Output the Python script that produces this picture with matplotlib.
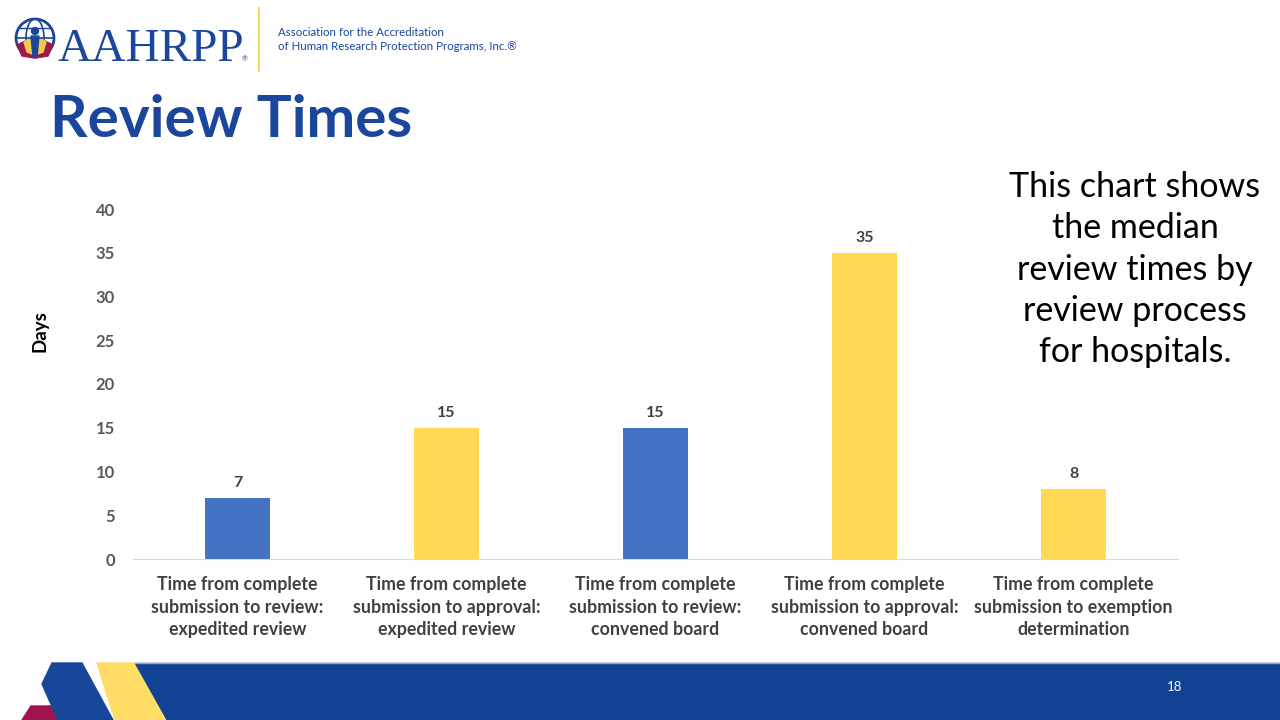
import matplotlib
matplotlib.use("Agg")
import matplotlib.pyplot as plt
from matplotlib.patches import Polygon, Circle, Ellipse

categories = [
    "Time from complete\nsubmission to review:\nexpedited review",
    "Time from complete\nsubmission to approval:\nexpedited review",
    "Time from complete\nsubmission to review:\nconvened board",
    "Time from complete\nsubmission to approval:\nconvened board",
    "Time from complete\nsubmission to exemption\ndetermination",
]
median_days = [7, 15, 15, 35, 8]
bar_colors = ["#4472C4", "#FFD954", "#4472C4", "#FFD954", "#FFD954"]
y_ticks = [0, 5, 10, 15, 20, 25, 30, 35, 40]

navy = "#1A469C"
plt.rcParams["font.family"] = ["Lato", "DejaVu Sans"]

fig = plt.figure(figsize=(12.8, 7.2), dpi=100)

# background layer in pixel coordinates
bg = fig.add_axes([0, 0, 1, 1], zorder=0)
bg.set_xlim(0, 1280)
bg.set_ylim(720, 0)
bg.axis("off")

# logo
bg.add_patch(Circle((35, 38), 19, fill=False, ec=navy, lw=2))
bg.add_patch(Ellipse((35, 38), 18, 38, fill=False, ec=navy, lw=1.2))
bg.plot([16, 54], [38, 38], color=navy, lw=1.2)
bg.plot([19, 51], [28, 28], color=navy, lw=1.0)
bg.add_patch(Polygon([(17, 45), (27, 40), (35, 58), (22, 56)], color="#9B1B4E"))
bg.add_patch(Polygon([(53, 45), (43, 40), (35, 58), (48, 56)], color="#9B1B4E"))
bg.add_patch(Polygon([(24, 42), (30, 38), (35, 55), (27, 52)], color="#F2C94C"))
bg.add_patch(Polygon([(46, 42), (40, 38), (35, 55), (43, 52)], color="#F2C94C"))
bg.add_patch(Polygon([(31, 36), (39, 36), (37, 56), (33, 56)], color=navy))
bg.add_patch(Circle((35, 31), 3.5, color=navy))
bg.text(57, 61, "AAHRPP", fontsize=34, family=["Liberation Serif"], color=navy,
        ha="left", va="baseline")
bg.text(242, 61, "®", fontsize=5, color=navy, ha="left", va="baseline")
bg.plot([259, 259], [8, 71], color="#F5D55B", lw=1.5)
bg.text(278, 36, "Association for the Accreditation", fontsize=8.3,
        color=navy, ha="left", va="baseline")
bg.text(278, 50, "of Human Research Protection Programs, Inc.®", fontsize=8.3,
        color=navy, ha="left", va="baseline")

# title
bg.text(50, 137, "Review Times", fontsize=42, fontweight="bold", color=navy,
        ha="left", va="baseline")

# side note
bg.text(1135, 171, "This chart shows\nthe median\nreview times by\nreview process\nfor hospitals.",
        fontsize=24.5, color="black", ha="center", va="top", linespacing=1.36)

# footer band
bg.add_patch(Polygon([(22, 720), (31, 706), (56, 706), (63, 720)], color="#A0134F"))
bg.add_patch(Polygon([(52, 663), (82, 663), (113, 720), (58, 720), (42, 684)], color="#16479A"))
bg.add_patch(Polygon([(97, 663), (135, 663), (167, 720), (115, 720)], color="#FFDC66"))
bg.add_patch(Polygon([(135, 663), (1280, 663), (1280, 720), (167, 720)], color="#124293"))
bg.plot([135, 1280], [663, 663], color="#8FA8D8", lw=1)
bg.text(1175, 687, "18", fontsize=9.5, color="white", ha="center", va="center")

# y label
bg.text(40, 331, "Days", fontsize=13.5, fontweight="bold", color="black",
        rotation=90, ha="center", va="center")

# chart
ax = fig.add_axes([133 / 1280, 1 - 559 / 720, 1045 / 1280, 350 / 720], zorder=1)
ax.patch.set_alpha(0)
x = range(len(categories))
bars = ax.bar(x, median_days, width=0.31, color=bar_colors)
for xi, v in zip(x, median_days):
    ax.text(xi, v + 0.9, str(v), ha="center", va="bottom", fontsize=11.5,
            fontweight="bold", color="#404040")

ax.set_xlim(-0.5, len(categories) - 0.5)
ax.set_ylim(0, 40)
ax.set_yticks(y_ticks)
ax.set_xticks(list(x))
ax.set_xticklabels(categories, fontsize=12.8, fontweight="bold", color="#404040",
                   linespacing=1.42)
for lab in ax.get_yticklabels():
    lab.set_fontsize(12)
    lab.set_fontweight("bold")
    lab.set_color("#595959")
ax.tick_params(axis="both", length=0)
ax.tick_params(axis="y", pad=13)
ax.tick_params(axis="x", pad=12)
for s in ["top", "right", "left"]:
    ax.spines[s].set_visible(False)
ax.spines["bottom"].set_color("#D9D9D9")

fig.savefig("out.png", dpi=100)
